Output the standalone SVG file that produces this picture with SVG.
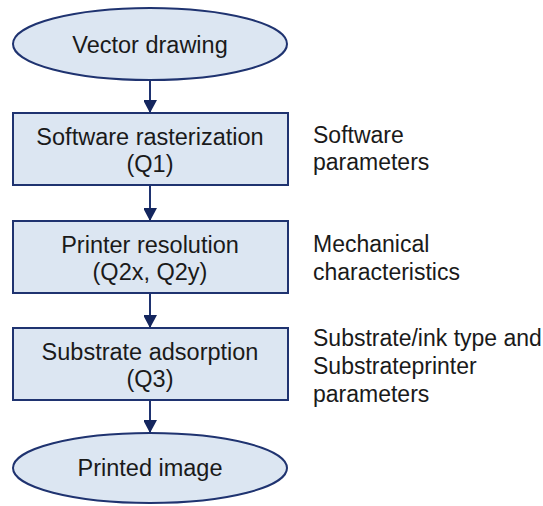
<svg xmlns="http://www.w3.org/2000/svg" width="543" height="506" viewBox="0 0 543 506">
<style>
.n{fill:#dce6f2;stroke:#1f3370;stroke-width:2}
.t{font-family:"Liberation Sans",Arial,sans-serif;font-size:23.5px;fill:#1a1a1a;text-anchor:middle}
.s{font-family:"Liberation Sans",Arial,sans-serif;font-size:23px;fill:#1a1a1a}
.c{stroke:#1f3370;stroke-width:2;fill:none}
</style>
<defs>
<marker id="ah" markerWidth="14" markerHeight="13" refX="13" refY="7" orient="auto" markerUnits="userSpaceOnUse">
<path d="M0,0 L13,7 L0,14 Z" fill="#14265e"/>
</marker>
</defs>
<g id="connectors">
<line class="c" x1="150" y1="80" x2="150" y2="113" marker-end="url(#ah)"/>
<line class="c" x1="150" y1="185" x2="150" y2="221" marker-end="url(#ah)"/>
<line class="c" x1="150" y1="293" x2="150" y2="328" marker-end="url(#ah)"/>
<line class="c" x1="150" y1="400" x2="150" y2="433" marker-end="url(#ah)"/>
</g>
<g id="vector-drawing">
<ellipse class="n" cx="150" cy="44" rx="137" ry="36"/>
<text class="t" x="150" y="53">Vector drawing</text>
</g>
<g id="software-rasterization">
<rect class="n" x="13" y="113" width="275" height="72"/>
<text class="t" x="150" y="145">Software rasterization</text>
<text class="t" x="150" y="172">(Q1)</text>
</g>
<g id="printer-resolution">
<rect class="n" x="13" y="221" width="275" height="72"/>
<text class="t" x="150" y="253">Printer resolution</text>
<text class="t" x="150" y="280">(Q2x, Q2y)</text>
</g>
<g id="substrate-adsorption">
<rect class="n" x="13" y="328" width="275" height="72"/>
<text class="t" x="150" y="360">Substrate adsorption</text>
<text class="t" x="150" y="387">(Q3)</text>
</g>
<g id="printed-image">
<ellipse class="n" cx="150" cy="468" rx="137" ry="35"/>
<text class="t" x="150" y="476">Printed image</text>
</g>
<g id="notes">
<text class="s" x="313" y="143">Software</text>
<text class="s" x="313" y="170">parameters</text>
<text class="s" x="313" y="252">Mechanical</text>
<text class="s" x="313" y="280">characteristics</text>
<text class="s" x="313" y="346">Substrate/ink type and</text>
<text class="s" x="313" y="374">Substrateprinter</text>
<text class="s" x="313" y="402">parameters</text>
</g>
</svg>
